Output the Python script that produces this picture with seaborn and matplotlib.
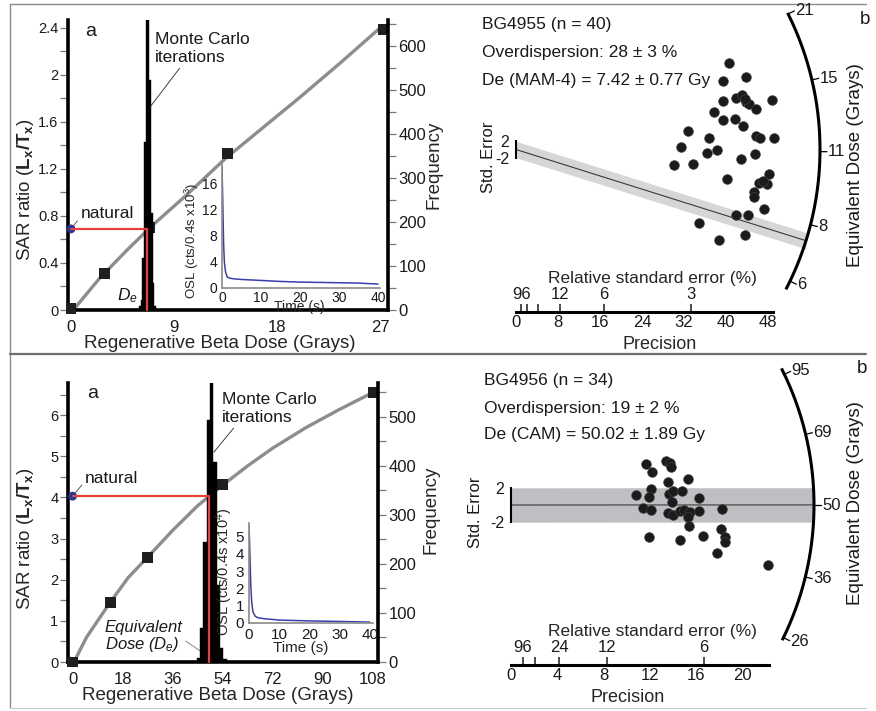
import numpy as np
import matplotlib
matplotlib.use('Agg')
import matplotlib.pyplot as plt
from matplotlib.ticker import MultipleLocator, FuncFormatter
import seaborn as sns

FIG_W, FIG_H = 876, 711

# ---- BG4955 (top row) ----
TOP_REG_DOSE = [0, 2.9, 6.9, 13.7, 27.3]
TOP_REG_RATIO = [0.01, 0.31, 0.70, 1.33, 2.39]
TOP_CURVE_DOSE = [0.2, 2.5, 5, 7, 10, 13.5, 17, 20, 23.5, 27]
TOP_CURVE_RATIO = [0.0, 0.27, 0.52, 0.71, 0.97, 1.29, 1.57, 1.81, 2.10, 2.40]
TOP_NATURAL = 0.69
TOP_DE = 6.61
TOP_MC_EDGES = [5.93, 6.08, 6.23, 6.38, 6.53, 6.68, 6.83, 6.98, 7.13, 7.28, 7.43]
TOP_MC_COUNTS = [10, 23, 118, 382, 700, 700, 523, 220, 61, 8]
TOP_OSL_TIME = [0, 0.2, 0.4, 0.6, 0.9, 1.3, 2, 3, 5, 10, 15, 20, 25, 30, 35, 40]
TOP_OSL_SIGNAL = [18.5, 13, 7, 4, 2.5, 1.7, 1.5, 1.4, 1.3, 1.15, 1.0, 0.9, 0.85, 0.8, 0.75, 0.6]

TOP_PRECISION = [40.6, 39.4, 43.8, 39.5, 41.9, 43.1, 43.9, 44.4, 45.8, 48.8,
                 37.8, 39.4, 41.8, 43.3, 32.7, 36.8, 45.7, 46.5, 49.1, 31.4,
                 36.4, 38.3, 45.6, 42.8, 30.1, 33.7, 40.2, 48.1, 46.3, 47.8,
                 45.3, 45.3, 47.2, 41.9, 44.2, 34.9, 43.6, 38.7, 47.1, 43.6]
TOP_STD_EST = [21.2, 16.7, 17.7, 11.9, 12.6, 13.4, 11.5, 11.0, 9.8, 12.1,
               9.1, 7.3, 7.5, 5.7, 4.5, 2.7, 3.3, 2.7, 2.9, 0.5,
               -0.9, -0.1, -1.2, -2.4, -3.9, -3.6, -7.3, -6.0, -8.1, -8.4,
               -10.3, -11.5, -14.4, -16.0, -16.0, -18.0, -20.8, -22.0, -7.8, 12.3]
TOP_REF_DOSE = 11.1
TOP_MODEL_DE = 7.42
TOP_ARC_TICKS = [6, 8, 11, 15, 21]
TOP_RSE_TICKS = [96, 48, 24, 12, 6, 3]
TOP_RSE_LABELS = ['96', '', '', '12', '6', '3']
TOP_PREC_TICKS = [0, 8, 16, 24, 32, 40, 48]
TOP_TEXT = ['BG4955 (n = 40)', 'Overdispersion: 28 \u00b1 3 %',
            'De (MAM-4) = 7.42 \u00b1 0.77 Gy']

# ---- BG4956 (bottom row) ----
BOT_REG_DOSE = [0, 13.5, 27, 54, 108]
BOT_REG_RATIO = [0.0, 1.45, 2.55, 4.32, 6.55]
BOT_CURVE_DOSE = [0.5, 5, 13.5, 20, 27, 36, 45, 54, 63, 72, 84, 96, 108]
BOT_CURVE_RATIO = [0.0, 0.6, 1.45, 2.05, 2.55, 3.2, 3.8, 4.3, 4.77, 5.2, 5.7, 6.14, 6.55]
BOT_NATURAL = 4.03
BOT_DE = 49.1
BOT_MC_EDGES = [44.6, 45.8, 47.0, 48.2, 49.4, 50.6, 51.8, 53.0, 54.2, 55.4]
BOT_MC_COUNTS = [8, 69, 245, 494, 620, 407, 157, 29, 6]
BOT_OSL_TIME = [0, 0.2, 0.4, 0.6, 0.9, 1.3, 2, 3, 5, 10, 20, 30, 40]
BOT_OSL_SIGNAL = [5.65, 4.6, 3.3, 2.1, 1.2, 0.65, 0.4, 0.3, 0.25, 0.17, 0.12, 0.09, 0.05]

BOT_PRECISION = [11.66, 12.24, 13.42, 13.77, 13.83, 15.30, 13.59, 10.80, 12.10, 11.98,
                 13.71, 14.06, 14.81, 13.91, 16.30, 11.39, 12.10, 13.57, 14.06, 14.63,
                 15.00, 15.50, 15.35, 16.30, 18.27, 15.41, 11.98, 14.66, 16.60, 18.21,
                 18.53, 18.50, 17.80, 22.26]
BOT_STD_EST = [4.77, 3.87, 5.12, 4.85, 4.38, 3.03, 2.64, 1.13, 1.86, 0.90,
               1.28, 1.66, 1.63, 0.38, 0.78, -0.38, -0.55, -0.90, -1.17, -0.70,
               -0.58, -0.78, -1.36, -0.66, -0.50, -2.40, -3.69, -4.07, -3.60, -2.79,
               -3.69, -4.27, -5.55, -7.01]
BOT_REF_DOSE = 50
BOT_MODEL_DE = 50.02
BOT_ARC_TICKS = [26, 36, 50, 69, 95]
BOT_RSE_TICKS = [96, 48, 24, 12, 6]
BOT_RSE_LABELS = ['96', '', '24', '12', '6']
BOT_PREC_TICKS = [0, 4, 8, 12, 16, 20]
BOT_TEXT = ['BG4956 (n = 34)', 'Overdispersion: 19 \u00b1 2 %',
            'De (CAM) = 50.02 \u00b1 1.89 Gy']

CURVE_GREY = '#8d8d8d'
RED = '#e8403a'
NATURAL_BLUE = '#283593'
OSL_BLUE = '#3b3fae'
TICK_GREY = '#7a7a7a'

sns.set_style('white')
plt.rcParams['font.family'] = ['Liberation Sans', 'DejaVu Sans']
plt.rcParams['mathtext.fontset'] = 'custom'
plt.rcParams['mathtext.rm'] = 'Liberation Sans'
plt.rcParams['mathtext.it'] = 'Liberation Sans:italic'
plt.rcParams['mathtext.bf'] = 'Liberation Sans:bold'
plt.rcParams['text.color'] = '#1a1a1a'
plt.rcParams['xtick.color'] = '#1a1a1a'
plt.rcParams['ytick.color'] = '#1a1a1a'

fig = plt.figure(figsize=(FIG_W / 100, FIG_H / 100), dpi=100)


def px_box(l, t, r, b):
    '''pixel box (top-left origin) -> figure fraction rect'''
    return [l / FIG_W, 1 - b / FIG_H, (r - l) / FIG_W, (b - t) / FIG_H]


def fig_text(x, y, s, **kw):
    fig.text(x / FIG_W, 1 - y / FIG_H, s, **kw)


def sar_panel(box, curve_x, curve_y, reg_x, reg_y, natural, de, edges, counts,
              xlim, xstep, ylim, ystep, freq_top, ylab_xy, freq_xy, xlab_xy):
    ax = fig.add_axes(px_box(*box))
    sns.lineplot(x=curve_x, y=curve_y, ax=ax, color=CURVE_GREY, lw=2.4,
                 estimator=None, sort=False, zorder=2)
    sns.scatterplot(x=reg_x, y=reg_y, ax=ax, marker='s', s=62, color='#1f1f1f',
                    edgecolor='none', zorder=3, clip_on=False, legend=False)
    sns.scatterplot(x=[0], y=[natural], ax=ax, color=NATURAL_BLUE, s=40,
                    edgecolor='none', zorder=5, clip_on=False, legend=False)

    ax2 = ax.twinx()
    centers = [(a + b) / 2 for a, b in zip(edges[:-1], edges[1:])]
    sns.histplot(x=centers, weights=counts, bins=edges, ax=ax2, color='black',
                 alpha=1, edgecolor='black', linewidth=0.3)
    ax2.plot([0, de, de], [natural, natural, 0], color=RED, lw=1.6,
             transform=ax.transData, clip_on=False, zorder=4)

    ax.set_xlim(*xlim)
    ax.set_ylim(*ylim)
    ax2.set_ylim(0, freq_top)
    ax.xaxis.set_major_locator(MultipleLocator(xstep))
    ax.xaxis.set_minor_locator(MultipleLocator(xstep / 2))
    ax.yaxis.set_major_locator(MultipleLocator(ystep))
    ax.yaxis.set_minor_locator(MultipleLocator(ystep / 2))
    ax.yaxis.set_major_formatter(FuncFormatter(lambda v, p: f'{v:g}'))
    ax2.yaxis.set_major_locator(MultipleLocator(100))
    ax2.yaxis.set_minor_locator(MultipleLocator(50))

    for s in ('top', 'right'):
        ax.spines[s].set_visible(False)
    for s in ('top', 'left', 'bottom'):
        ax2.spines[s].set_visible(False)
    for sp in (ax.spines['left'], ax.spines['bottom'], ax2.spines['right']):
        sp.set_linewidth(2.6)
        sp.set_color('black')

    ax.tick_params(which='both', direction='out', length=6, width=0.9,
                   color=TICK_GREY, pad=1.5)
    ax.tick_params(axis='y', labelsize=10.5, pad=1)
    ax.tick_params(axis='x', labelsize=12)
    ax2.tick_params(which='both', direction='out', length=6, width=0.9,
                    color=TICK_GREY, labelsize=12, pad=1.5)

    ax.set_ylabel(r'SAR ratio ($\mathbf{L_x/T_x}$)', fontsize=13.5)
    ax.yaxis.set_label_coords(*ylab_xy)
    ax2.set_ylabel('Frequency', fontsize=13.5)
    ax2.yaxis.set_label_coords(*freq_xy)
    ax.set_xlabel('Regenerative Beta Dose (Grays)', fontsize=13.5)
    ax.xaxis.set_label_coords(*xlab_xy)
    return ax, ax2


def osl_inset(box, t, sig, xlim, ylim, ystep, exp, fs, time_xy, osl_xy, xpad):
    ax = fig.add_axes(px_box(*box))
    ax.patch.set_alpha(0)
    sns.lineplot(x=t, y=sig, ax=ax, color=OSL_BLUE, lw=1.1, estimator=None, sort=False)
    ax.set_xlim(*xlim)
    ax.set_ylim(*ylim)
    ax.xaxis.set_major_locator(MultipleLocator(10))
    ax.xaxis.set_minor_locator(MultipleLocator(5))
    ax.yaxis.set_major_locator(MultipleLocator(ystep))
    ax.yaxis.set_minor_locator(MultipleLocator(ystep / 2))
    for s in ('top', 'right'):
        ax.spines[s].set_visible(False)
    for s in ('left', 'bottom'):
        ax.spines[s].set_color('#8a8a8a')
        ax.spines[s].set_linewidth(1.2)
    ax.tick_params(which='both', direction='out', length=2.5, width=0.7,
                   color='#8a8a8a', labelsize=fs, pad=1)
    ax.tick_params(axis='x', pad=xpad)
    ax.set_xlabel('Time (s)', fontsize=fs)
    ax.xaxis.set_label_coords(*time_xy)
    ax.set_ylabel('OSL (cts/0.4s x10$^{%d}$)' % exp, fontsize=fs - 0.5)
    ax.yaxis.set_label_coords(*osl_xy)
    return ax


def radial_panel(box, origin, scale, radius, arc_span, precision, std_est,
                 ref_dose, model_de, arc_ticks, rse_ticks, rse_labels,
                 prec_ticks, prec_end, band_color, stderr_xy, prec_lab_x):
    l, t, r, b = box
    ox, oy = origin
    sx, sy = scale
    ax = fig.add_axes(px_box(l, t, r, b))
    ax.patch.set_alpha(0)
    ax.set_xlim((l - ox) / sx, (r - ox) / sx)
    ax.set_ylim((oy - b) / sy, (oy - t) / sy)

    # model dose line with +-2 sigma band
    slope = np.log(model_de) - np.log(ref_dose)
    ang = np.arctan(slope * sy / sx)
    xs = np.linspace(0, radius * np.cos(ang) / sx, 60)
    ax.fill_between(xs, slope * xs - 2, slope * xs + 2, color=band_color, lw=0, zorder=1)
    ax.plot(xs, slope * xs, color='#3a3a3a', lw=0.8, zorder=2)

    # radial dose axis
    th = np.radians(np.linspace(arc_span[0], arc_span[1], 200))
    ax.plot(radius * np.cos(th) / sx, radius * np.sin(th) / sy, color='black',
            lw=2.2, clip_on=False, solid_capstyle='butt')
    for v in arc_ticks:
        a = np.arctan((np.log(v) - np.log(ref_dose)) * sy / sx)
        ax.plot([radius * np.cos(a) / sx, (radius + 7) * np.cos(a) / sx],
                [radius * np.sin(a) / sy, (radius + 7) * np.sin(a) / sy],
                color='black', lw=0.9, clip_on=False)
        ax.text((radius + 8) * np.cos(a) / sx, (radius + 8) * np.sin(a) / sy,
                str(v), ha='left', va='center', fontsize=12)

    sns.scatterplot(x=precision, y=std_est, ax=ax, color='#1b1b1b', s=50,
                    edgecolor='#4a4a4a', linewidth=0.4, zorder=4, legend=False)

    for s in ('top', 'right'):
        ax.spines[s].set_visible(False)
    ax.spines['left'].set_position(('data', 0))
    ax.spines['left'].set_bounds(-2, 2)
    ax.spines['left'].set_linewidth(1.5)
    ax.spines['left'].set_color('black')
    ax.set_yticks([-2, 2], ['-2', '2'])
    ax.tick_params(axis='y', direction='out', length=4, width=1.5, labelsize=11.5, pad=1)
    ax.spines['bottom'].set_bounds(0, prec_end)
    ax.spines['bottom'].set_linewidth(2.2)
    ax.spines['bottom'].set_color('black')
    ax.set_xticks(prec_ticks)
    ax.tick_params(axis='x', direction='in', length=6, width=1.1, labelsize=12, pad=2)
    ax.set_xlabel('Precision', fontsize=13)
    ax.xaxis.set_label_coords(prec_lab_x, -0.02 - 18 / (b - t))

    sec = ax.secondary_xaxis(0.0)
    sec.set_alignment('top')
    sec.spines['top'].set_visible(False)
    sec.set_ticks([100 / v for v in rse_ticks], labels=rse_labels)
    sec.tick_params(axis='x', direction='out', length=6, width=1.1, labelsize=12, pad=1)
    sec.set_xlabel('Relative standard error (%)', fontsize=12.5, labelpad=3)

    ax.text(stderr_xy[0], stderr_xy[1], 'Std. Error', rotation=90, ha='center',
            va='center', fontsize=12)
    return ax


# frame around both rows
bg = fig.add_axes([0, 0, 1, 1], zorder=-5)
bg.set_xlim(0, FIG_W)
bg.set_ylim(FIG_H, 0)
bg.axis('off')
bg.plot([10, 866], [4, 4], color='#8a8a8a', lw=1.0)
bg.plot([10, 10], [4, 708], color='#8a8a8a', lw=1.0)
bg.plot([10, 866], [354, 354], color='#6e6e6e', lw=1.6)
bg.plot([10, 866], [708, 708], color='#c8c8c8', lw=0.8)

# ---- top row ----
ax_a, ax_a2 = sar_panel((68, 20, 388, 310), TOP_CURVE_DOSE, TOP_CURVE_RATIO,
                        TOP_REG_DOSE, TOP_REG_RATIO, TOP_NATURAL, TOP_DE,
                        TOP_MC_EDGES, TOP_MC_COUNTS, (-0.26, 27.7), 9,
                        (0, 2.468), 0.4, 659, (-0.1, 0.414), (1.116, 0.5),
                        (0.475, -0.086))
ax_a.text(0.053, 0.96, 'a', transform=ax_a.transAxes, fontsize=14, va='center')
ax_a.annotate('natural', xy=(0, TOP_NATURAL), xytext=(7, 11), textcoords='offset points',
              fontsize=12.5, ha='left', va='center',
              arrowprops=dict(arrowstyle='-', color='#444', lw=0.6, shrinkA=0, shrinkB=2,
                              relpos=(0, 0.3)))
ax_a.annotate(r'$D_e$', xy=(TOP_DE, 0.15), xytext=(-6, -2), textcoords='offset points',
              fontsize=12.5, ha='right', va='center',
              arrowprops=dict(arrowstyle='-', color='#777', lw=0.6, shrinkA=0, shrinkB=0,
                              relpos=(1, 0.6)))
ax_a2.annotate('Monte Carlo\niterations', xy=(6.9, 461), xytext=(7.34, 632),
               fontsize=12.5, ha='left', va='top', linespacing=1.25,
               arrowprops=dict(arrowstyle='-', color='#222', lw=0.6, shrinkA=0, shrinkB=0,
                               relpos=(0.3, 0.05)))
osl_inset((222, 164, 380, 288), TOP_OSL_TIME, TOP_OSL_SIGNAL, (0, 40.5), (0, 18.9),
          4, 3, 10, (0.49, -0.1), (-0.133, 0.38), 0)

radial_panel((470, 10, 835, 312), (516, 149.5), (5.25, 4.1), 304, (-27.4, 26.7),
             TOP_PRECISION, TOP_STD_EST, TOP_REF_DOSE, TOP_MODEL_DE, TOP_ARC_TICKS,
             TOP_RSE_TICKS, TOP_RSE_LABELS, TOP_PREC_TICKS, 49.0, '#d4d6d8',
             (-5.3, -1.8), (660 - 470) / 365)
for i, s in enumerate(TOP_TEXT):
    fig_text(482, 24 + 28 * i, s, fontsize=12.5, va='center')
fig_text(855, 165, 'Equivalent Dose (Grays)', rotation=90, fontsize=13.5,
         ha='center', va='center')
fig_text(865, 20, 'b', fontsize=13.5, ha='center', va='center')

# ---- bottom row ----
ax_c, ax_c2 = sar_panel((68, 383, 378, 662), BOT_CURVE_DOSE, BOT_CURVE_RATIO,
                        BOT_REG_DOSE, BOT_REG_RATIO, BOT_NATURAL, BOT_DE,
                        BOT_MC_EDGES, BOT_MC_COUNTS, (-1.65, 109.8), 18,
                        (0, 6.78), 1, 569, (-0.103, 0.444), (1.142, 0.545),
                        (0.484, -0.09))
ax_c.text(0.061, 0.964, 'a', transform=ax_c.transAxes, fontsize=14, va='center')
ax_c.annotate('natural', xy=(0, BOT_NATURAL), xytext=(9, 13), textcoords='offset points',
              fontsize=12.5, ha='left', va='center',
              arrowprops=dict(arrowstyle='-', color='#444', lw=0.6, shrinkA=0, shrinkB=2,
                              relpos=(0, 0.3)))
ax_c.annotate('Equivalent\nDose ($D_e$)', xy=(BOT_DE, 0.12), xytext=(11.5, 0.61),
              fontsize=12, fontstyle='italic', ha='left', va='center', linespacing=1.05,
              arrowprops=dict(arrowstyle='-', color='#777', lw=0.6, shrinkA=0, shrinkB=0,
                              relpos=(0.93, 0.55)))
ax_c2.annotate('Monte Carlo\niterations', xy=(50.8, 428), xytext=(53.7, 551),
               fontsize=12.5, ha='left', va='top', linespacing=1.25,
               arrowprops=dict(arrowstyle='-', color='#222', lw=0.6, shrinkA=0, shrinkB=0,
                               relpos=(0.18, 0.1)))
osl_inset((249, 523, 373, 623), BOT_OSL_TIME, BOT_OSL_SIGNAL, (0, 41.06), (0, 5.78),
          1, 4, 11, (0.42, -0.18), (-0.113, 0.51), 1)

radial_panel((470, 365, 835, 665), (511, 505), (11.55, 8.6), 303, (-26.5, 26.8),
             BOT_PRECISION, BOT_STD_EST, BOT_REF_DOSE, BOT_MODEL_DE, BOT_ARC_TICKS,
             BOT_RSE_TICKS, BOT_RSE_LABELS, BOT_PREC_TICKS, 22.3, '#bdbfc2',
             (-3.1, -0.8), (628 - 470) / 365)
for i, s in enumerate(BOT_TEXT):
    fig_text(484, 381 + 27 * i, s, fontsize=12.5, va='center')
fig_text(855, 503, 'Equivalent Dose (Grays)', rotation=90, fontsize=13.5,
         ha='center', va='center')
fig_text(862, 368, 'b', fontsize=13.5, ha='center', va='center')

fig.savefig('out.png', dpi=100)
